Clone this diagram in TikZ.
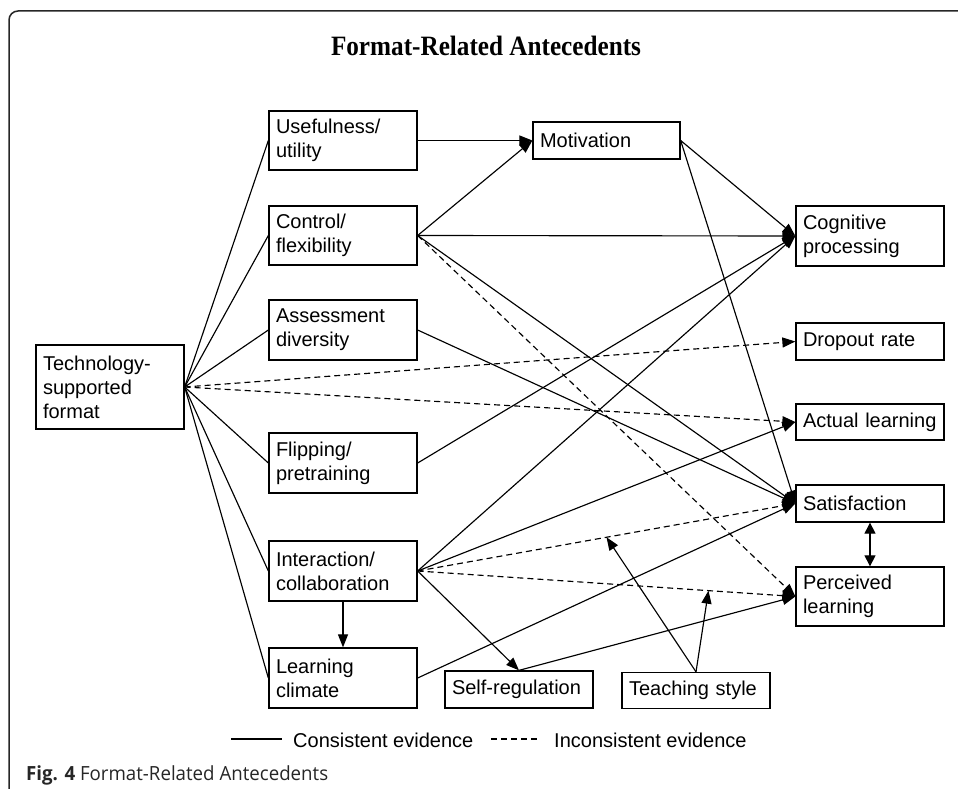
\documentclass[tikz,border=0pt]{standalone}
\usepackage{fontspec}
\usepackage{graphicx}
\setmainfont{Liberation Sans}
\newfontfamily\titlefont{Liberation Serif}
\newfontfamily\capfont{Open Sans}
\usetikzlibrary{arrows.meta,calc}
\begin{document}
\begin{tikzpicture}[x=1pt,y=-1pt,
  box/.style={draw,line width=1.3pt,inner xsep=7pt,inner ysep=0pt,text width=134pt,align=left,minimum height=#1,font=\fontsize{20}{24}\selectfont},
  box/.default=37pt,
  ln/.style={line width=1.15pt},
  arr/.style={ln,-{Triangle[length=13pt,width=10pt]}},
  dsh/.style={dash pattern=on 6pt off 4pt},
  lbl/.style={inner sep=0pt,font=\fontsize{20}{24}\selectfont}
]
\useasboundingbox (0,0) rectangle (958,789);
% frame
\draw[line width=1.5pt,rounded corners=9pt,black!85] (958,11) -- (9,11) -- (9,789);
% title
\node (title) at (486,46) {\resizebox{310pt}{\height}{\fontsize{28}{28}\selectfont\titlefont\bfseries Format-Related Antecedents}};
% nodes
\node[box=84pt] (tech) at (110,387) {Technology-\\supported\\format};
\node[box=59pt] (useful) at (343,140.5) {Usefulness/\\utility};
\node[box=59pt] (control) at (343,235.5) {Control/\\flexibility};
\node[box=60pt] (assess) at (343,330) {Assessment\\diversity};
\node[box=60pt] (flip) at (343,463) {Flipping/\\pretraining};
\node[box=60pt] (inter) at (343,571) {Interaction/\\collaboration};
\node[box=60pt] (climate) at (343,678) {Learning\\climate};
\node[box=37pt,text width=133pt] (motiv) at (606.5,140.5) {Motivation};
\node[box=60pt] (cogn) at (870,236) {Cognitive\\processing};
\node[box=37pt] (drop) at (870,341.5) {Dropout rate};
\node[box=36pt] (actual) at (870,422) {Actual learning};
\node[box=37pt] (satis) at (870,503.5) {Satisfaction};
\node[box=59pt] (perc) at (870,596.5) {Perceived\\learning};
\node[box=37pt] (selfreg) at (519,689.5) {Self-regulation};
\node[box=36pt] (teach) at (696,690.5) {Teaching style};
% from technology-supported format
\draw[ln] (tech.east) -- (useful.west);
\draw[ln] (tech.east) -- (control.west);
\draw[ln] (tech.east) -- (assess.west);
\draw[ln] (tech.east) -- (flip.west);
\draw[ln] (tech.east) -- (inter.west);
\draw[ln] (tech.east) -- (climate.west);
\draw[arr,dsh] (tech.east) -- (drop.west);
\draw[arr,dsh] (tech.east) -- (actual.west);
% antecedents
\draw[arr] (useful.east) -- (motiv.west);
\draw[arr] (control.east) -- (motiv.west);
\draw[arr] (control.east) -- (cogn.west);
\draw[arr] (control.east) -- (satis.west);
\draw[arr,dsh] (control.east) -- (perc.west);
\draw[arr] (motiv.east) -- (cogn.west);
\draw[arr] (motiv.east) -- (satis.west);
\draw[arr] (assess.east) -- (satis.west);
\draw[arr] (flip.east) -- (cogn.west);
\draw[arr] (inter.east) -- (cogn.west);
\draw[arr] (inter.east) -- (actual.west);
\draw[arr,dsh] (inter.east) -- (satis.west);
\draw[arr,dsh] (inter.east) -- (perc.west);
\draw[arr] (inter.east) -- (selfreg.north);
\draw[arr] (inter.south) -- (climate.north);
\draw[arr] (climate.east) -- (satis.west);
\draw[arr] (selfreg.north) -- (perc.west);
\coordinate (m1) at ($(inter.east)!0.5!(satis.west)$);
\coordinate (m2) at ($(inter.east)!0.77!(perc.west)$);
\draw[arr] (teach.north) -- (m1);
\draw[arr] (teach.north) -- (m2);
\draw[ln,{Triangle[length=11pt,width=11pt]}-{Triangle[length=11pt,width=11pt]}] (satis.south) -- (perc.north);
% legend
\coordinate (la) at (231,739);
\coordinate (lb) at (282,739);
\draw[ln] (la) -- (lb);
\node[lbl,anchor=base west] (lt1) at (293,747) {Consistent evidence};
\coordinate (lc) at (491,739);
\coordinate (ld) at (539,739);
\draw[ln,dsh] (lc) -- (ld);
\node[lbl,anchor=base west] (lt2) at (554,747) {Inconsistent evidence};
% caption
\node[inner sep=0pt,anchor=base west,text=black!85] (cap) at (26,780) {\resizebox{302pt}{\height}{\fontsize{19.5}{20}\selectfont\capfont\textbf{Fig. 4} Format-Related Antecedents}};
\end{tikzpicture}
\end{document}
